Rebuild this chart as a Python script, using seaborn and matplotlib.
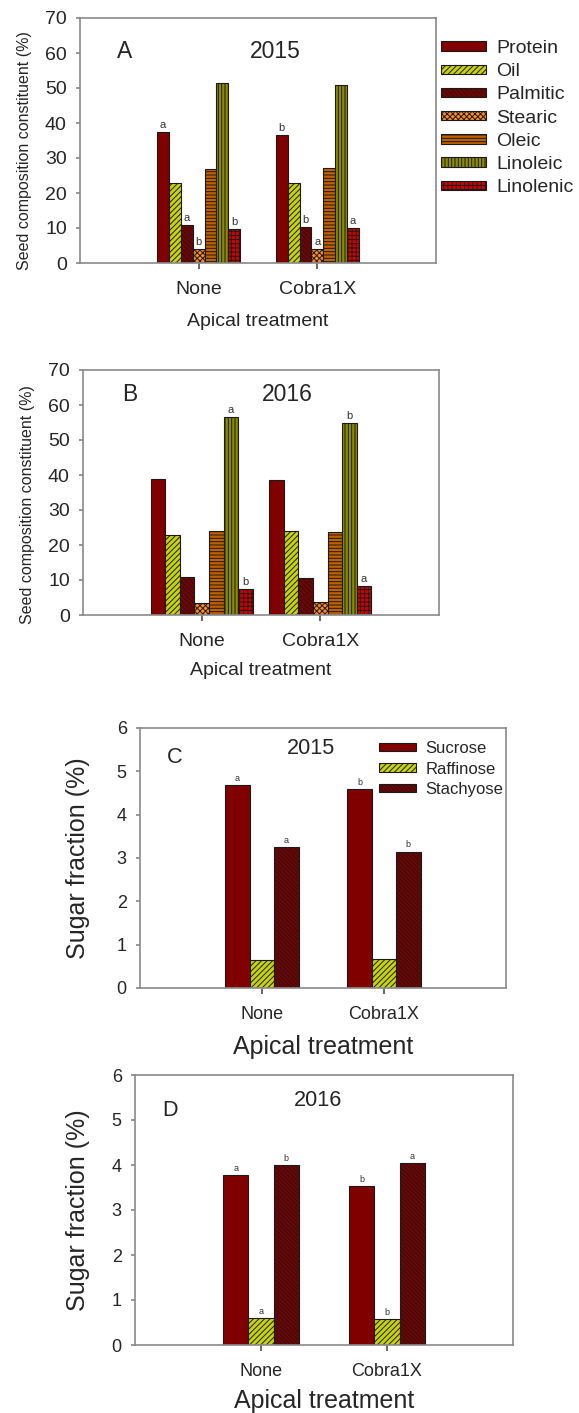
import matplotlib
matplotlib.use("Agg")
import matplotlib.pyplot as plt
import seaborn as sns
import pandas as pd

# data
treatments = ["None", "Cobra1X"]

seed_parts = ["Protein", "Oil", "Palmitic", "Stearic", "Oleic", "Linoleic", "Linolenic"]
seed_2015_none = [37.5, 22.9, 10.8, 4.0, 27.0, 51.3, 9.6]
seed_2015_cobra = [36.6, 22.9, 10.4, 4.0, 27.1, 51.0, 9.9]
seed_2015_let_none = ["a", "", "a", "b", "", "", "b"]
seed_2015_let_cobra = ["b", "", "b", "a", "", "", "a"]

seed_2016_none = [38.9, 23.0, 10.8, 3.5, 24.0, 56.7, 7.3]
seed_2016_cobra = [38.5, 24.1, 10.5, 3.6, 23.7, 55.0, 8.3]
seed_2016_let_none = ["", "", "", "", "", "a", "b"]
seed_2016_let_cobra = ["", "", "", "", "", "b", "a"]

sugars = ["Sucrose", "Raffinose", "Stachyose"]
sugar_2015_none = [4.68, 0.65, 3.25]
sugar_2015_cobra = [4.59, 0.68, 3.15]
sugar_2015_let_none = ["a", "", "a"]
sugar_2015_let_cobra = ["b", "", "b"]

sugar_2016_none = [3.78, 0.59, 3.99]
sugar_2016_cobra = [3.53, 0.57, 4.05]
sugar_2016_let_none = ["a", "a", "b"]
sugar_2016_let_cobra = ["b", "b", "a"]

seed_colors = ["#800000", "#c8d400", "#7a0000", "#ff8a1c", "#c06000", "#8c8c00", "#d00000"]
seed_hatches = ["", "//////", "\\\\\\\\\\\\\\", "xxxxxx", "-----", "|||||", "++++"]
sugar_colors = ["#800000", "#c8d400", "#7a0000"]
sugar_hatches = ["", "//////", "\\\\\\\\\\\\\\\\"]

sns.set_theme(style="ticks")
plt.rcParams["font.family"] = ["Liberation Sans", "DejaVu Sans"]
plt.rcParams["hatch.linewidth"] = 0.7

W, H = 579, 1413
fig = plt.figure(figsize=(W / 100, H / 100), dpi=100)


def make_df(parts, none_vals, cobra_vals):
    rows = []
    for p, v in zip(parts, none_vals):
        rows.append({"Treatment": "None", "Part": p, "Value": v})
    for p, v in zip(parts, cobra_vals):
        rows.append({"Treatment": "Cobra1X", "Part": p, "Value": v})
    return pd.DataFrame(rows)


def panel(box, parts, none_vals, cobra_vals, let_none, let_cobra, colors, hatches,
          width, ymax, ystep, tag, tag_xy, year, year_xy, fs_year, ylabel, fs_lab,
          ylab_xy, xlab_y, fs_tick, fs_let):
    l, t, r, b = box
    ax = fig.add_axes([l / W, 1 - b / H, (r - l) / W, (b - t) / H])
    df = make_df(parts, none_vals, cobra_vals)
    sns.barplot(data=df, x="Treatment", y="Value", hue="Part", order=treatments,
                hue_order=parts, palette=colors, saturation=1, width=width,
                errorbar=None, legend=False, ax=ax)
    letters = [let_none, let_cobra]
    for i, cont in enumerate(ax.containers):
        for j, bar in enumerate(cont.patches):
            bar.set_hatch(hatches[i])
            bar.set_edgecolor("#1a1a1a")
            bar.set_linewidth(0.8)
            lt = letters[j][i]
            if lt:
                ax.text(bar.get_x() + bar.get_width() / 2, bar.get_height() + ymax * 0.008, lt,
                        ha="center", va="bottom", fontsize=fs_let, color="#333333")
    ax.set_xlim(-1, 2)
    ax.set_ylim(0, ymax)
    ax.set_yticks(range(0, ymax + 1, ystep))
    for s in ax.spines.values():
        s.set_visible(True)
        s.set_color("#8a8a8a")
        s.set_linewidth(1.2)
    ax.tick_params(axis="y", length=3, pad=6.5, labelsize=fs_tick, color="#8a8a8a")
    ax.tick_params(axis="x", length=4, pad=9, labelsize=fs_tick, color="#555555")
    ax.set_ylabel(ylabel, fontsize=fs_lab)
    ax.set_xlabel("Apical treatment", fontsize=fs_lab if fs_lab > 14 else 14)
    ax.yaxis.set_label_coords(*ylab_xy)
    ax.xaxis.set_label_coords(0.5, xlab_y)
    ax.text(tag_xy[0], tag_xy[1], tag, transform=ax.transAxes, ha="left", va="center",
            fontsize=fs_year)
    ax.text(year_xy[0], year_xy[1], year, transform=ax.transAxes, ha="center", va="center",
            fontsize=fs_year)
    return ax


axA = panel((80, 18, 436, 263), seed_parts, seed_2015_none, seed_2015_cobra,
            seed_2015_let_none, seed_2015_let_cobra, seed_colors, seed_hatches,
            0.70, 70, 10, "A", (0.104, 0.865), "2015", (0.55, 0.865), 16.5,
            "Seed composition constituent (%)", 11.5, (-0.135, 0.46), -0.205, 14, 8)
axA.legend(handles=axA.containers, labels=seed_parts, loc="upper left",
           bbox_to_anchor=(441 / W, 1 - 40 / H), bbox_transform=fig.transFigure,
           frameon=False, fontsize=14, handlelength=2.3, handleheight=0.36,
           handletextpad=0.55, labelspacing=0.32, borderpad=0, borderaxespad=0)

panel((83, 370, 439, 615), seed_parts, seed_2016_none, seed_2016_cobra,
      seed_2016_let_none, seed_2016_let_cobra, seed_colors, seed_hatches,
      0.86, 70, 10, "B", (0.11, 0.90), "2016", (0.573, 0.90), 16.5,
      "Seed composition constituent (%)", 11.5, (-0.135, 0.45), -0.192, 14, 8)

axC = panel((140, 728, 506, 988), sugars, sugar_2015_none, sugar_2015_cobra,
            sugar_2015_let_none, sugar_2015_let_cobra, sugar_colors, sugar_hatches,
            0.60, 6, 1, "C", (0.074, 0.885), "2015", (0.467, 0.923), 15.6,
            "Sugar fraction (%)", 18, (-0.137, 0.5), -0.181, 13, 6.5)
axC.legend(handles=axC.containers, labels=sugars, loc="upper left",
           bbox_to_anchor=(379 / W, 1 - 741 / H), bbox_transform=fig.transFigure,
           frameon=False, fontsize=12, handlelength=2.2, handleheight=0.42,
           handletextpad=0.6, labelspacing=0.33, borderpad=0, borderaxespad=0)

panel((135, 1075, 513, 1345), sugars, sugar_2016_none, sugar_2016_cobra,
      sugar_2016_let_none, sugar_2016_let_cobra, sugar_colors, sugar_hatches,
      0.60, 6, 1, "D", (0.071, 0.87), "2016", (0.483, 0.907), 15.6,
      "Sugar fraction (%)", 18, (-0.119, 0.5), -0.163, 13, 6.5)

fig.savefig("out.png", dpi=100)
